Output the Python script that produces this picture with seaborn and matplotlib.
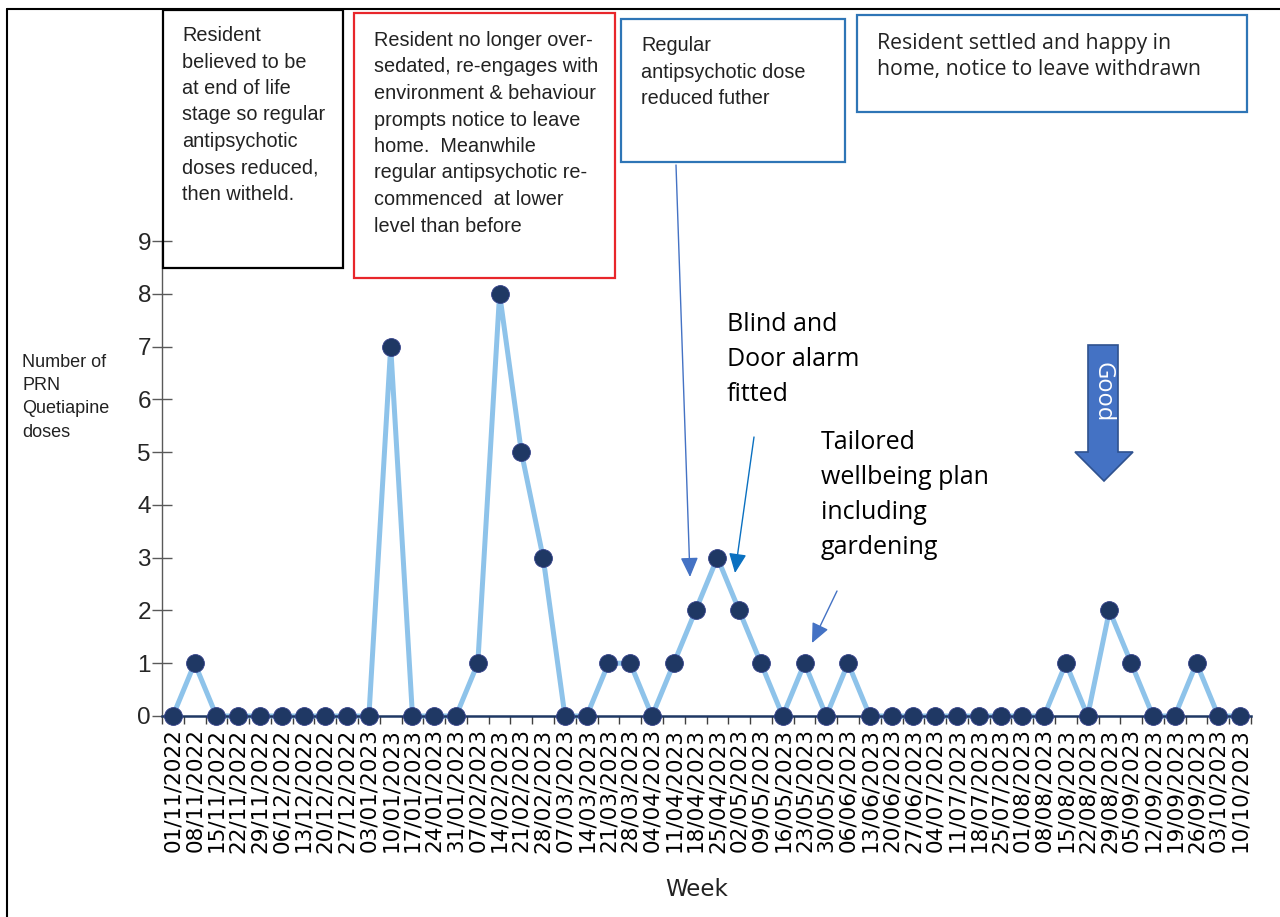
import matplotlib
matplotlib.use('Agg')
import matplotlib.pyplot as plt
import seaborn as sns
import numpy as np
import pandas as pd
from matplotlib.patches import Rectangle, Polygon, FancyArrowPatch
from matplotlib.lines import Line2D

# Weekly PRN quetiapine doses
weeks = ['01/11/2022', '08/11/2022', '15/11/2022', '22/11/2022', '29/11/2022',
         '06/12/2022', '13/12/2022', '20/12/2022', '27/12/2022', '03/01/2023',
         '10/01/2023', '17/01/2023', '24/01/2023', '31/01/2023', '07/02/2023',
         '14/02/2023', '21/02/2023', '28/02/2023', '07/03/2023', '14/03/2023',
         '21/03/2023', '28/03/2023', '04/04/2023', '11/04/2023', '18/04/2023',
         '25/04/2023', '02/05/2023', '09/05/2023', '16/05/2023', '23/05/2023',
         '30/05/2023', '06/06/2023', '13/06/2023', '20/06/2023', '27/06/2023',
         '04/07/2023', '11/07/2023', '18/07/2023', '25/07/2023', '01/08/2023',
         '08/08/2023', '15/08/2023', '22/08/2023', '29/08/2023', '05/09/2023',
         '12/09/2023', '19/09/2023', '26/09/2023', '03/10/2023', '10/10/2023']
prn_doses = [0, 1, 0, 0, 0, 0, 0, 0, 0, 0,
             7, 0, 0, 0, 1, 8, 5, 3, 0, 0,
             1, 1, 0, 1, 2, 3, 2, 1, 0, 1,
             0, 1, 0, 0, 0, 0, 0, 0, 0, 0,
             0, 1, 0, 2, 1, 0, 0, 1, 0, 0]
y_ticks = list(range(10))

LINE_COLOR = '#8EC3EA'
MARKER_COLOR = '#1F3864'
RED = '#E8262B'
BLUE = '#2E75B6'
ARROW_BLUE = '#4472C4'
TEXT = '#222222'

W, H = 1280, 917


def fx(px):
    return px / W


def fy(py):
    return 1 - py / H


sns.set_style('white')
plt.rcParams['font.family'] = ['Liberation Sans', 'DejaVu Sans']

fig = plt.figure(figsize=(W / 100, H / 100), dpi=100)
ax = fig.add_axes([fx(162), fy(716), (1251 - 162) / W, (716 - 241) / H])

df = pd.DataFrame({'pos': np.arange(len(weeks)), 'doses': prn_doses})
sns.lineplot(data=df, x='pos', y='doses', ax=ax, color=LINE_COLOR,
             linewidth=3.6, zorder=2, clip_on=False)
sns.scatterplot(data=df, x='pos', y='doses', ax=ax, color=MARKER_COLOR,
                s=165, edgecolor='#33408a', linewidth=0.6, zorder=4,
                clip_on=False)

ax.set_xlim(-0.5, len(weeks) - 0.5)
ax.set_ylim(0, 9)
ax.set_xticks(df['pos'])
ax.set_xticklabels(weeks, rotation=90, family='DejaVu Sans', fontsize=15.5)
ax.set_xticks(np.arange(-0.5, len(weeks), 1), minor=True)
ax.tick_params(axis='x', which='major', length=0, pad=9, colors='black')
ax.tick_params(axis='x', which='minor', length=6, width=1, color='#404040',
               direction='out', bottom=True)
ax.set_yticks(y_ticks)
ax.tick_params(axis='y', direction='inout', length=14, width=1,
               color='#595959', labelsize=17.5, pad=1, left=True)
ax.set_xlabel('')
ax.set_ylabel('')

for side in ['top', 'right']:
    ax.spines[side].set_visible(False)
ax.spines['left'].set_color('#595959')
ax.spines['left'].set_linewidth(1)
ax.spines['bottom'].set_color(MARKER_COLOR)
ax.spines['bottom'].set_linewidth(1.8)
ax.spines['bottom'].set_zorder(3)

# axis titles
fig.text(fx(22), fy(354), 'Number of\nPRN\nQuetiapine\ndoses', fontsize=13,
         color=TEXT, va='top', ha='left', linespacing=1.48)
fig.text(fx(697), fy(890), 'Week', fontsize=16.5, family='DejaVu Sans',
         color=TEXT, ha='center', va='center')

# outer frame
fig.add_artist(Line2D([fx(7), fx(7)], [0, fy(9)], color='black', lw=1.5))
fig.add_artist(Line2D([fx(7), 1], [fy(9), fy(9)], color='black', lw=1.5))

# text boxes
boxes = [
    (163, 10, 343, 268, 'black', 182, 26,
     'Resident\nbelieved to be\nat end of life\nstage so regular\n'
     'antipsychotic\ndoses reduced,\nthen witheld.', 'Liberation Sans', 14.3),
    (354, 13, 615, 278, RED, 374, 31,
     'Resident no longer over-\nsedated, re-engages with\n'
     'environment & behaviour\nprompts notice to leave\n'
     'home.  Meanwhile\nregular antipsychotic re-\n'
     'commenced  at lower\nlevel than before', 'Liberation Sans', 14.3),
    (621, 19, 845, 162, BLUE, 641, 36,
     'Regular\nantipsychotic dose\nreduced futher', 'Liberation Sans', 14.3),
    (857, 15, 1247, 112, BLUE, 877, 33,
     'Resident settled and happy in\nhome, notice to leave withdrawn',
     'Open Sans', 15.3),
]
for x0, y0, x1, y1, ec, tx, ty, label, fam, fs in boxes:
    fig.add_artist(Rectangle((fx(x0), fy(y1)), (x1 - x0) / W, (y1 - y0) / H,
                             transform=fig.transFigure, fill=False,
                             edgecolor=ec, linewidth=1.6))
    fig.text(fx(tx), fy(ty), label, family=fam, fontsize=fs, color=TEXT,
             va='top', ha='left', linespacing=1.5 if fam != 'Open Sans' else 1.3)

# free annotations
fig.text(fx(727), fy(312), 'Blind and\nDoor alarm\nfitted', family='Open Sans',
         fontsize=18, color='black', va='top', ha='left', linespacing=1.53)
fig.text(fx(821), fy(430), 'Tailored\nwellbeing plan\nincluding\ngardening',
         family='Open Sans', fontsize=18, color='black', va='top', ha='left',
         linespacing=1.53)

arrows = [
    ((676, 165), (690, 577), ARROW_BLUE),
    ((754, 437), (735, 573), '#0A70C0'),
    ((837, 591), (812, 643), ARROW_BLUE),
]
for (ax0, ay0), (ax1, ay1), c in arrows:
    fig.add_artist(FancyArrowPatch((fx(ax0), fy(ay0)), (fx(ax1), fy(ay1)),
                                   transform=fig.transFigure,
                                   arrowstyle='-|>,head_length=0.6,head_width=0.27',
                                   mutation_scale=20, color=c, lw=1,
                                   shrinkA=0, shrinkB=0))

# "Good" block arrow
good = [(1088, 345), (1118, 345), (1118, 452), (1133, 452), (1104, 481),
        (1075, 452), (1088, 452)]
fig.add_artist(Polygon([(fx(px), fy(py)) for px, py in good], closed=True,
                       transform=fig.transFigure, facecolor=ARROW_BLUE,
                       edgecolor='#2F528F', linewidth=1.2))
fig.text(fx(1103), fy(392), 'Good', family='Open Sans', fontsize=17,
         color='white', rotation=-90, ha='center', va='center')

fig.savefig('out.png', dpi=100)
